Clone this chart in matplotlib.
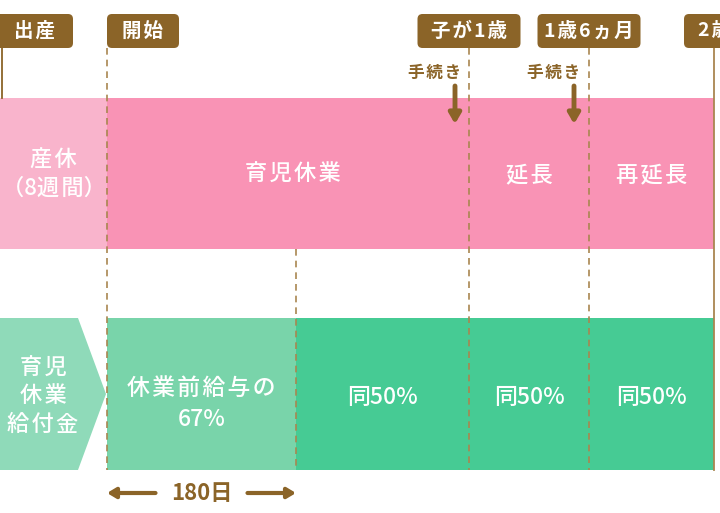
import matplotlib.pyplot as plt
from matplotlib.patches import Rectangle, Polygon, FancyBboxPatch

plt.rcParams['font.family'] = ['Noto Sans CJK JP', 'DejaVu Sans']

# schematic timeline (diagram units, not to scale)
milestones = ['出産', '開始', '子が1歳', '1歳6ヵ月', '2歳']
milestone_pos = [2, 107, 469, 589, 714]
milestone_align = ['left', 'left', 'center', 'center', 'center']

leave_labels = ['産休\n（8週間）', '育児休業', '延長', '再延長']
leave_edges = [0, 107, 469, 589, 714]

benefit_labels = ['休業前給与の\n67%', '同50%', '同50%', '同50%']
benefit_edges = [107, 296, 469, 589, 714]

procedure_pos = [455, 574]   # 手続き arrows
period_180 = [107, 296]      # 180日

pink = '#f993b5'
pink_light = '#f9b4cc'
green = '#46cb94'
green_light = '#79d4aa'
green_label = '#8fdab9'
brown = '#8b6428'
dash_col = '#a98650'


def spaced(s, digits=False):
    # small tracking between kanji/kana (and digits in the tags), like the artwork
    def wide(c):
        return (ord(c) > 0x3000 and c not in '（）') or (digits and c.isdigit())
    out = ''
    for a, b in zip(s, s[1:] + ' '):
        out += a
        if wide(a) and wide(b):
            out += '\u200a'
    return out


fig = plt.figure(figsize=(7.2, 5.13), dpi=100)
ax = fig.add_axes([0, 0, 1, 1])
ax.set_xlim(0, 720)
ax.set_ylim(513, 0)
ax.axis('off')

# leave band
band1 = (98, 249)
for i, lab in enumerate(leave_labels):
    x0, x1 = leave_edges[i], leave_edges[i + 1]
    col = pink_light if i == 0 else pink
    ax.add_patch(Rectangle((x0, band1[0]), x1 - x0, band1[1] - band1[0], color=col, lw=0))
    xc = (x0 + x1) / 2 + (5 if i == 1 else 0)
    ax.text(xc, (band1[0] + band1[1]) / 2 + 1, spaced(lab), color='white', fontsize=16,
            ha='center', va='center', weight='medium', linespacing=1.3)

# benefit band
band2 = (318, 470)
ax.add_patch(Polygon([(0, band2[0]), (78, band2[0]), (106, 394), (78, band2[1]), (0, band2[1])],
                     closed=True, color=green_label, lw=0))
ax.text(43, 396, spaced('育児\n休業\n給付金'), color='white', fontsize=16, ha='center',
        va='center', weight='medium', linespacing=1.28)
for i, lab in enumerate(benefit_labels):
    x0, x1 = benefit_edges[i], benefit_edges[i + 1]
    col = green_light if i == 0 else green
    ax.add_patch(Rectangle((x0, band2[0]), x1 - x0, band2[1] - band2[0], color=col, lw=0))
    yc = 404 if i == 0 else 398
    ax.text((x0 + x1) / 2, yc, spaced(lab), color='white', fontsize=16.5, ha='center',
            va='center', weight='medium', linespacing=1.4)

# vertical guide lines
ax.plot([milestone_pos[0]] * 2, [48, band1[0]], color=brown, lw=1.3, zorder=3)
for p in milestone_pos[1:4]:
    ax.plot([p, p], [48, band2[1]], color=dash_col, lw=1.2, ls=(0, (4, 3)), zorder=3)
ax.plot([benefit_edges[1]] * 2, [band1[1], band2[1]], color=dash_col, lw=1.2, ls=(0, (4, 3)), zorder=3)
ax.plot([milestone_pos[-1]] * 2, [48, band2[1]], color=dash_col, lw=1.3, zorder=3)

# milestone tags
tag_w = [78, 72, 103, 103, 60]
for lab, p, al, w in zip(milestones, milestone_pos, milestone_align, tag_w):
    x0 = p - 7 if lab == '出産' else (p if al == 'left' else p - w / 2)
    ax.add_patch(FancyBboxPatch((x0, 14), w, 34, boxstyle='round,pad=0,rounding_size=5',
                                color=brown, lw=0, zorder=4))
    ax.text(x0 + w / 2, 31, spaced(lab, digits=True), color='white', fontsize=14,
            ha='center', va='center', weight='bold', zorder=5)

# procedure arrows
for p in procedure_pos:
    ax.text(p + 6, 73, spaced('手続き'), color=brown, fontsize=12, ha='right', va='center',
            weight='bold')
    ax.annotate('', xy=(p, 124), xytext=(p, 86),
                arrowprops=dict(arrowstyle='-|>,head_length=0.6,head_width=0.35', lw=3.5,
                                color=brown, shrinkA=0, shrinkB=0), zorder=4)

# 180 days span
mid = sum(period_180) / 2
ax.text(mid, 493, spaced('180日'), color=brown, fontsize=16, ha='center', va='center',
        weight='bold')
ax.annotate('', xy=(period_180[0], 493), xytext=(mid - 46, 493),
            arrowprops=dict(arrowstyle='-|>,head_length=0.5,head_width=0.3', lw=3,
                            color=brown, shrinkA=0, shrinkB=0))
ax.annotate('', xy=(period_180[1], 493), xytext=(mid + 46, 493),
            arrowprops=dict(arrowstyle='-|>,head_length=0.5,head_width=0.3', lw=3,
                            color=brown, shrinkA=0, shrinkB=0))

fig.savefig('out.png', dpi=100)
